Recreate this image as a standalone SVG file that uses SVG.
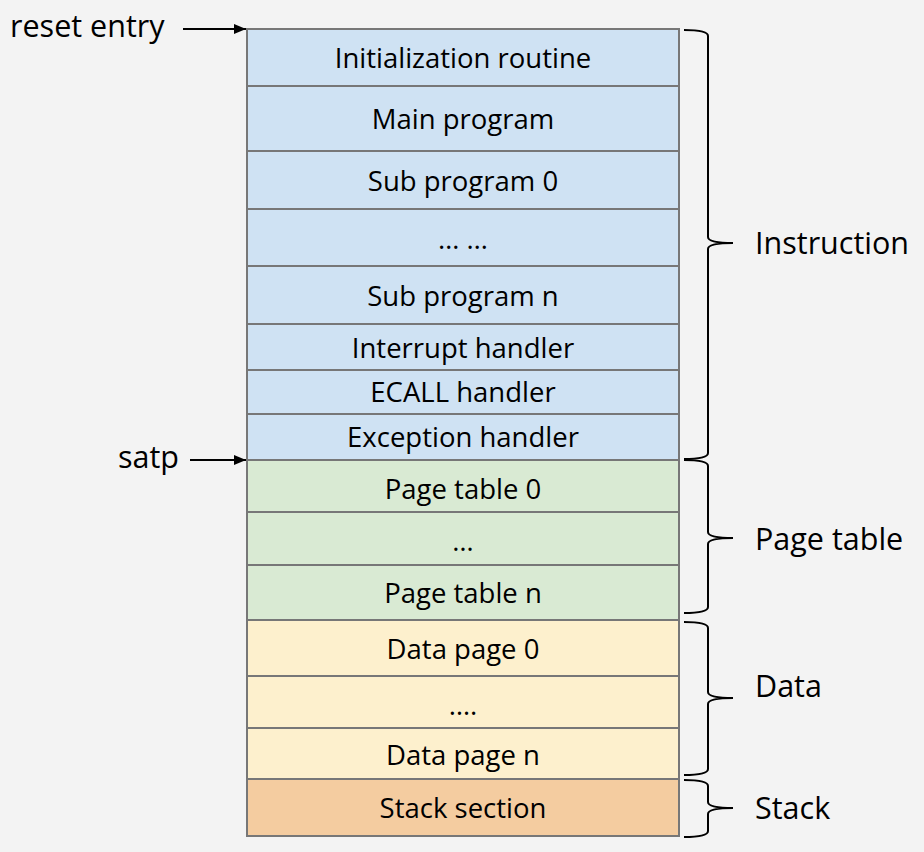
<svg xmlns="http://www.w3.org/2000/svg" width="924" height="852" viewBox="0 0 924 852">
<defs>
<style>
text{font-family:"Open Sans","Liberation Sans",sans-serif;font-size:27.5px;fill:#000}
.c{text-anchor:middle}
.l{font-size:30.5px}
.cell{stroke:#777;stroke-width:2}
.b{fill:#cfe2f3}.g{fill:#d9ead3}.y{fill:#fdf0cd}.o{fill:#f4cca0}
.br{fill:none;stroke:#000;stroke-width:2}
.ar{stroke:#000;stroke-width:2;fill:none}
</style>
<marker id="ah" markerWidth="12" markerHeight="10" refX="12" refY="5" orient="auto" markerUnits="userSpaceOnUse">
<path d="M0,0 L12,5 L0,10 Z" fill="#000"/>
</marker>
</defs>
<rect width="924" height="852" fill="#f3f3f3"/>
<g id="n0"><rect class="cell b" x="247" y="29" width="432" height="57"/><text class="c" x="463" y="68">Initialization routine</text></g>
<g id="n1"><rect class="cell b" x="247" y="86" width="432" height="65"/><text class="c" x="463" y="129">Main program</text></g>
<g id="n2"><rect class="cell b" x="247" y="151" width="432" height="58"/><text class="c" x="463" y="191">Sub program 0</text></g>
<g id="n3"><rect class="cell b" x="247" y="209" width="432" height="57"/><text class="c" x="463" y="249">…  …</text></g>
<g id="n4"><rect class="cell b" x="247" y="266" width="432" height="58"/><text class="c" x="463" y="306">Sub program n</text></g>
<g id="n5"><rect class="cell b" x="247" y="324" width="432" height="46"/><text class="c" x="463" y="358">Interrupt handler</text></g>
<g id="n6"><rect class="cell b" x="247" y="370" width="432" height="44"/><text class="c" x="463" y="402">ECALL handler</text></g>
<g id="n7"><rect class="cell b" x="247" y="414" width="432" height="46"/><text class="c" x="463" y="447">Exception handler</text></g>
<g id="n8"><rect class="cell g" x="247" y="460" width="432" height="52"/><text class="c" x="463" y="499">Page table 0</text></g>
<g id="n9"><rect class="cell g" x="247" y="512" width="432" height="53"/><text class="c" x="463" y="551">…</text></g>
<g id="n10"><rect class="cell g" x="247" y="565" width="432" height="55"/><text class="c" x="463" y="603">Page table n</text></g>
<g id="n11"><rect class="cell y" x="247" y="620" width="432" height="56"/><text class="c" x="463" y="659">Data page 0</text></g>
<g id="n12"><rect class="cell y" x="247" y="676" width="432" height="52"/><text class="c" x="463" y="715">….</text></g>
<g id="n13"><rect class="cell y" x="247" y="728" width="432" height="51"/><text class="c" x="463" y="765">Data page n</text></g>
<g id="n14"><rect class="cell o" x="247" y="779" width="432" height="57"/><text class="c" x="463" y="818">Stack section</text></g>
<g id="braces">
<path class="br" d="M684,30 Q708,30 708,36 L708,237 Q708,243 733,243 Q708,243 708,249 L708,453 Q708,459 684,459"/>
<path class="br" d="M684,460 Q708,460 708,466 L708,532 Q708,538 733,538 Q708,538 708,544 L708,607 Q708,613 684,613"/>
<path class="br" d="M684,622 Q708,622 708,628 L708,692 Q708,698 733,698 Q708,698 708,704 L708,769 Q708,775 684,775"/>
<path class="br" d="M684,780 Q708,780 708,786 L708,802 Q708,808 733,808 Q708,808 708,814 L708,831 Q708,837 684,837"/>
</g>
<g id="labels">
<text class="l" x="755" y="254">Instruction</text>
<text class="l" x="755" y="550">Page table</text>
<text class="l" x="755" y="697">Data</text>
<text class="l" x="755" y="819">Stack</text>
</g>
<g id="connectors">
<line class="ar" x1="183" y1="29" x2="246" y2="29" marker-end="url(#ah)"/>
<line class="ar" x1="190" y1="460" x2="246" y2="460" marker-end="url(#ah)"/>
</g>
<g id="pointers">
<text class="l" x="10" y="37">reset entry</text>
<text class="l" x="118" y="468">satp</text>
</g>
</svg>
